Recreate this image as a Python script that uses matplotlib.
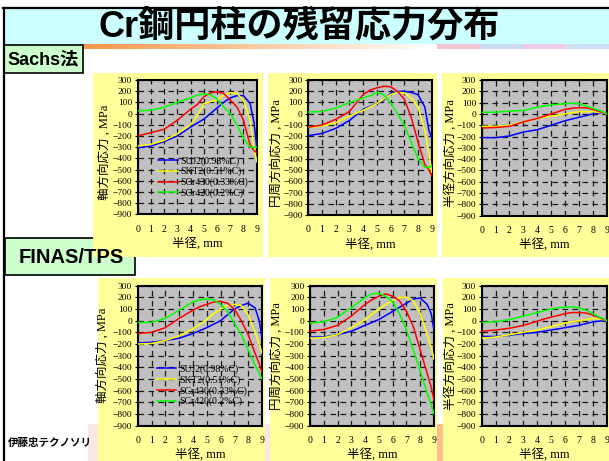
import numpy as np
import matplotlib.pyplot as plt
from matplotlib.patches import Rectangle

plt.rcParams['font.family'] = ['Liberation Serif', 'Noto Sans CJK JP']

W, H = 609, 461

# radius, mm
r = [0, 1, 2, 3, 4, 4.5, 5, 5.5, 6, 6.5, 7, 7.5, 8, 8.5, 8.8, 9]
steels = ['SUJ2(0.98%C)', 'SKT2(0.51%C)', 'SCr430(0.33%C)', 'SCr420(0.2%C)']
colors = ['#0000ff', '#ffff00', '#ff0000', '#00ff00']

# Sachs method: SUJ2, SKT2, SCr430, SCr420 (MPa)
sachs_axial = [
    [-305, -290, -250, -200, -120, -85, -50, 0, 50, 100, 140, 160, 160, 90, -80, -300],
    [-290, -275, -240, -180, -100, -20, 90, 107, 120, 165, 187, 180, 120, -60, -300, -430],
    [-200, -170, -140, -60, 40, 80, 150, 185, 195, 180, 120, 60, -60, -280, -330, -350],
    [25, 30, 55, 100, 140, 165, 175, 170, 130, 60, 0, -100, -220, -300, -300, -300],
]
sachs_hoop = [
    [-195, -175, -130, -60, 40, 65, 90, 120, 180, 195, 200, 190, 170, 60, -150, -210],
    [-120, -110, -80, -20, 30, 60, 90, 130, 170, 190, 185, 140, 60, -150, -350, -520],
    [-120, -100, -50, 20, 170, 210, 230, 245, 240, 200, 130, -30, -250, -450, -500, -550],
    [15, 20, 50, 100, 140, 160, 190, 170, 100, 0, -100, -250, -400, -475, -480, -460],
]
sachs_radial = [
    [-210, -210, -195, -160, -140, -120, -100, -80, -60, -45, -30, -15, 0, 10, 8, 0],
    [-110, -110, -100, -70, -40, -30, -20, -10, 0, 10, 20, 20, 20, 15, 8, 0],
    [-125, -120, -110, -70, -40, -20, 0, 20, 40, 50, 55, 55, 40, 20, 10, 0],
    [15, 15, 25, 30, 60, 70, 80, 85, 90, 95, 90, 70, 50, 30, 15, 0],
]

# FINAS/TPS
finas_axial = [
    [-190, -185, -170, -150, -110, -85, -60, -30, 0, 50, 100, 130, 150, 110, 0, -150],
    [-200, -195, -170, -130, -70, -30, 10, 60, 100, 130, 140, 130, 50, -100, -200, -280],
    [-110, -100, -60, 20, 90, 120, 140, 160, 165, 150, 100, 0, -120, -280, -370, -440],
    [-15, -15, 20, 90, 160, 180, 185, 180, 140, 80, -20, -120, -250, -380, -450, -500],
]
finas_hoop = [
    [-140, -140, -120, -90, -40, -15, 10, 45, 80, 115, 150, 185, 195, 140, 60, -80],
    [-150, -145, -120, -60, 10, 55, 100, 140, 170, 200, 200, 170, 60, -120, -230, -330],
    [-90, -75, -40, 40, 140, 180, 210, 230, 210, 170, 80, -50, -250, -450, -570, -680],
    [-20, -10, 30, 110, 200, 230, 235, 210, 160, 60, -80, -250, -430, -620, -720, -800],
]
finas_radial = [
    [-135, -135, -125, -110, -100, -90, -80, -70, -60, -50, -40, -25, -10, -3, 0, 0],
    [-150, -140, -120, -100, -80, -65, -50, -35, -20, -10, 0, 10, 20, 15, 8, 0],
    [-90, -80, -65, -40, -5, 15, 30, 45, 60, 70, 70, 65, 50, 25, 10, 0],
    [-15, -10, 10, 40, 70, 85, 100, 110, 115, 120, 110, 90, 60, 30, 15, 0],
]

ylabels = ['軸方向応力 , MPa', '円周方向応力 , MPa', '半径方向応力 , MPa']
xlabel = '半径, mm'
sans = ['Liberation Sans', 'Noto Sans CJK JP']


def frac(x0, y0, x1, y1):
    return [x0 / W, 1 - y1 / H, (x1 - x0) / W, (y1 - y0) / H]


fig = plt.figure(figsize=(W / 100, H / 100), dpi=100)
fig.patch.set_facecolor('white')

# slide background in pixel units
bg = fig.add_axes([0, 0, 1, 1])
bg.set_xlim(0, W)
bg.set_ylim(H, 0)
bg.axis('off')

bg.add_patch(Rectangle((4, 9), W - 4, 36, fc='#ccffff', ec='none', zorder=1))
bg.add_patch(Rectangle((88, 424), W - 88, H - 424, fc='#fde6e6', ec='none', zorder=1))
bg.add_patch(Rectangle((437, 424), 6, H - 424, fc='#ffbb88', ec='none', zorder=2))

t = np.linspace(0, 1, 200)[None, :, None]
orange = np.array([247, 150, 70]) / 255
grad = orange * (1 - t) + 1.0 * t
bg.imshow(grad, extent=(83, 435, 49, 44), aspect='auto', zorder=2)
pastel = np.array([[0.95, 0.78, 0.82], [0.80, 0.85, 0.95], [0.93, 0.80, 0.90], [0.82, 0.88, 0.96]])
bg.imshow(pastel[None, :, :], extent=(437, W, 49, 44), aspect='auto', zorder=2)

bg.plot([3, W], [8, 8], color='black', lw=1.6, zorder=5)
bg.plot([3.5, 3.5], [8, H], color='black', lw=1.6, zorder=5)

bg.text(299, 27, 'Cr鋼円柱の残留応力分布', family=sans, fontsize=26,
        fontweight='bold', ha='center', va='center', zorder=5)

bg.add_patch(Rectangle((4, 45), 79, 28, fc='#ccffcc', ec='black', lw=1.2, zorder=4))
bg.text(43, 59.5, 'Sachs法', family=sans, fontsize=13, fontweight='bold',
        ha='center', va='center', zorder=5)
bg.add_patch(Rectangle((5, 238), 130, 37, fc='#ccffcc', ec='black', lw=1.2, zorder=4))
bg.text(71, 257, 'FINAS/TPS', family=sans, fontsize=14.5, fontweight='bold',
        ha='center', va='center', zorder=5)
bg.text(8, 443, '伊藤忠テクノソリ', family=sans, fontsize=7.6,
        fontweight='bold', ha='left', va='center', zorder=3)

# yellow chart panels
for x0, y0, x1, y1 in [(93, 73, 263, 257), (268, 73, 437, 257), (442, 73, W, 257),
                       (98, 278, 265, H), (270, 278, 437, H), (443, 278, W, H)]:
    bg.add_patch(Rectangle((x0, y0), x1 - x0, y1 - y0, fc='#ffff99', ec='none', zorder=4))


def draw_panel(rect, series, ylabel, lab_dx, lab_y, legend_at=None):
    x0, y0, x1, y1 = rect
    ax = fig.add_axes(frac(*rect))
    ax.set_facecolor('#c0c0c0')
    for ys, c, name in zip(series, colors, steels):
        ax.plot(r, ys, color=c, lw=1.1, label=name, zorder=3)
    ax.set_xlim(0, 9)
    ax.set_ylim(-900, 300)
    ax.set_xticks(range(10))
    ax.set_yticks(range(-900, 301, 100))
    ax.grid(True, color='#1a1a1a', lw=0.9, ls=(0, (4.5, 3.5)))
    ax.set_axisbelow(True)
    for s in ax.spines.values():
        s.set_linewidth(1.5)
        s.set_color('black')
    ax.tick_params(axis='x', length=0, pad=7.5, labelsize=7)
    ax.tick_params(axis='y', length=2.5, direction='out', pad=1.5, labelsize=6.8)
    ax.set_xlabel(xlabel, fontsize=9, va='center')
    ax.xaxis.set_label_coords(0.5, -29 / (y1 - y0))
    ax.set_ylabel(ylabel, fontsize=9, va='center')
    ax.yaxis.set_label_coords(-lab_dx / (x1 - x0), lab_y)
    if legend_at is not None:
        ax.legend(loc='upper left', bbox_to_anchor=legend_at, frameon=False,
                  fontsize=7, handlelength=2.0, handletextpad=0.3,
                  labelspacing=0.12, borderpad=0, borderaxespad=0)
    return ax


draw_panel((137.7, 80, 256.7, 214.3), sachs_axial, ylabels[0], 32.7, 0.46, (0.173, 0.434))
draw_panel((308.3, 80, 431.7, 215), sachs_hoop, ylabels[1], 31.3, 0.46)
draw_panel((481.7, 80, 606.7, 215.7), sachs_radial, ylabels[2], 31.7, 0.46)
draw_panel((137.7, 285.7, 262, 425.7), finas_axial, ylabels[0], 34.7, 0.5, (0.153, 0.438))
draw_panel((310, 285.7, 434, 425.7), finas_hoop, ylabels[1], 33, 0.5)
draw_panel((481.7, 285.7, 606.7, 425.7), finas_radial, ylabels[2], 31.5, 0.5)

fig.savefig('out.png', dpi=100)
